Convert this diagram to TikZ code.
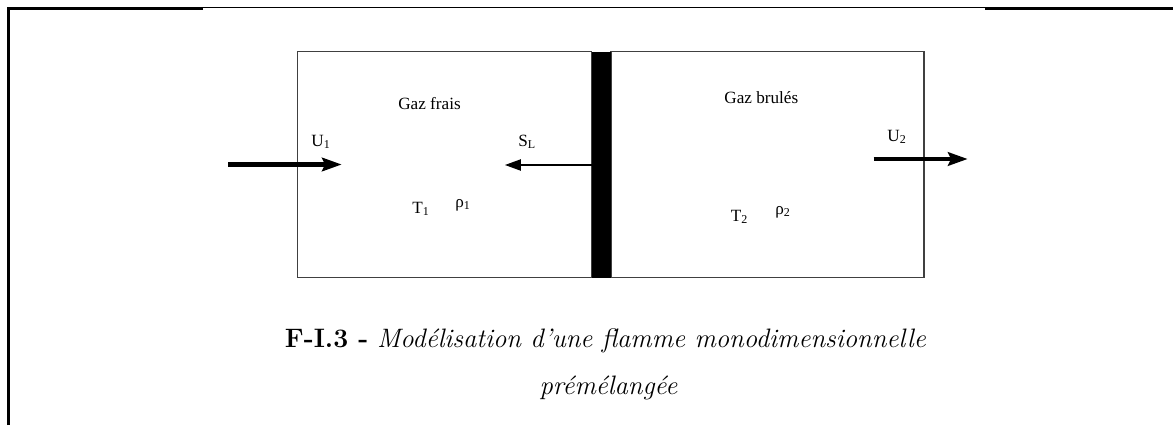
\documentclass[tikz,border=0pt]{standalone}
\usepackage{fontspec}
\newfontfamily\labelfont{Liberation Serif}
\usetikzlibrary{arrows.meta,positioning}

\begin{document}
\begin{tikzpicture}[x=0.017cm,y=-0.017cm,
	lbl/.style={font=\labelfont\fontsize{8.3}{10}\selectfont, inner sep=0pt, anchor=base},
	sym/.style={font=\labelfont\fontsize{8.3}{10}\selectfont, inner sep=0pt, anchor=base west},
	caption/.style={font=\fontsize{12.9}{15}\selectfont, inner sep=0pt, anchor=base},
	wall/.style={draw=black!75, line width=0.6pt},
	flow/.style={-{Stealth[length=9.5pt,width=6.5pt,inset=1.5pt]}}]
	\useasboundingbox (0,0) rectangle (1173,425);

	% page frame
	\draw[line width=1.6pt] (8.3,425) -- (8.3,8.3) -- (203,8.3);
	\draw[line width=0.8pt] (203,7.5) -- (985,7.5);
	\draw[line width=1.6pt] (985,8.3) -- (1173,8.3);

	% fresh gas, burnt gas and the flame front
	\draw[wall] (297.7,51.7) rectangle (591.7,277.7);
	\draw[wall] (611,51.7) rectangle (924,277.7);
	\fill (591.7,51.7) rectangle (611,277.7);

	\node [lbl] (frais) at (429.5,109) {Gaz frais};
	\node [lbl] (brules) at (761.3,103) {Gaz brulés};
	\node [sym] (u1) at (311,146.5) {U\textsubscript{1}};
	\node [sym] (sl) at (518,146) {S\textsubscript{L}};
	\node [sym] (u2) at (887,141.5) {U\textsubscript{2}};
	\node [sym] (t1) at (412,213.3) {T\textsubscript{1}};
	\node [sym] (r1) at (455,207) {ρ\textsubscript{1}};
	\node [sym] (t2) at (730.5,221.5) {T\textsubscript{2}};
	\node [sym] (r2) at (775,214) {ρ\textsubscript{2}};

	\coordinate (u1s) at (228,164.5);
	\coordinate (u1e) at (341.7,164.5);
	\coordinate (front) at (591.7,165);
	\coordinate (sle) at (505,165);
	\coordinate (u2s) at (873.5,159);
	\coordinate (u2e) at (967.7,159);

	\draw[flow,line width=2pt] (u1s) -- (u1e);
	\draw[-{Triangle[length=7.7pt,width=5.5pt]},line width=0.5pt] (front) -- (sle);
	\draw[flow,line width=2.3pt] (u2s) -- (u2e);

	% caption
	\node [caption] (cap1) at (605.5,347) {\textbf{F-I.3 -} \textit{Modélisation d'une flamme monodimensionnelle}};
	\node [caption] (cap2) at (608.5,394) {\textit{prémélangée}};
\end{tikzpicture}
\end{document}
